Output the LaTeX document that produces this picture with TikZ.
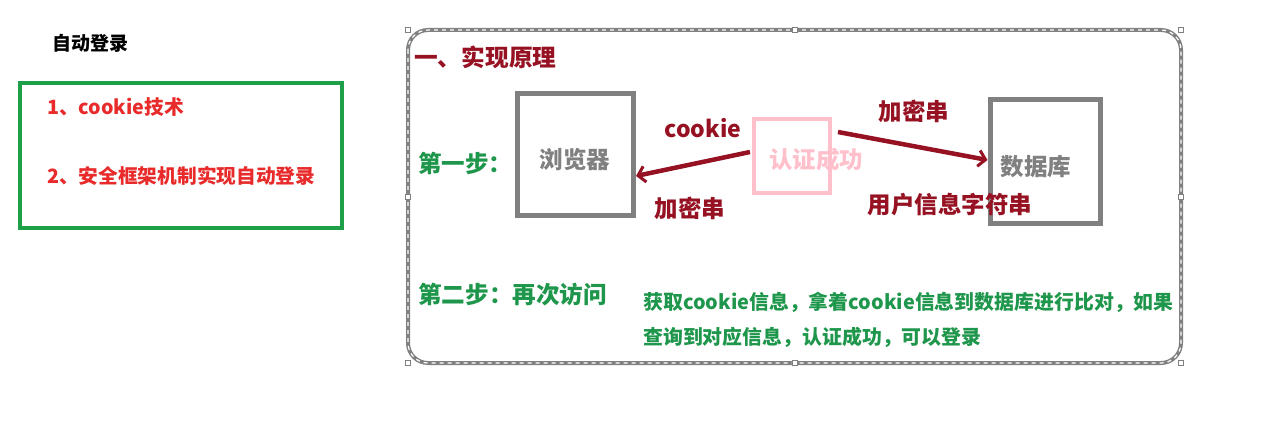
\documentclass[tikz,border=0pt]{standalone}
\usepackage{fontspec}
\setmainfont{Noto Sans CJK SC}
\usetikzlibrary{arrows.meta}
\definecolor{boxgreen}{RGB}{30,160,72}
\definecolor{txtred}{RGB}{232,42,42}
\definecolor{darkred}{RGB}{150,18,35}
\definecolor{boxgray}{RGB}{128,128,128}
\definecolor{pinkc}{RGB}{255,192,203}
\definecolor{txtgreen}{RGB}{30,150,75}
\begin{document}
\begin{tikzpicture}[x=1pt,y=-1pt,
  lbl/.style={inner sep=0pt,font=\bfseries},
  handle/.style={draw=boxgray,fill=white,line width=0.6pt,minimum size=5pt,inner sep=0pt},
  arr/.style={draw=darkred,line width=4.5pt,-{Straight Barb[length=7pt,width=16pt,line width=3pt]}}]
\useasboundingbox (0,0) rectangle (1263,422);
% left part
\node[lbl,font=\bfseries\fontsize{19}{19}\selectfont,anchor=west] (title) at (52,43) {自动登录};
\draw[boxgreen,line width=4pt] (20,83) rectangle (342,228);
\node[lbl,text=txtred,font=\bfseries\fontsize{19.7}{19.7}\selectfont,anchor=west] (i1) at (47,107) {1、cookie技术};
\node[lbl,text=txtred,font=\bfseries\fontsize{19.7}{19.7}\selectfont,anchor=west] (i2) at (47,176) {2、安全框架机制实现自动登录};
% outer frame
\draw[boxgray,line width=4pt,rounded corners=20pt] (408,30) rectangle (1181,363);
\draw[white,line width=1.2pt,dash pattern=on 4pt off 4pt,rounded corners=20pt] (408,30) rectangle (1181,363);
\foreach \p in {(408,30),(795,30),(1181,30),(408,197),(1181,197),(408,363),(795,363),(1181,363)}
  \node[handle] at \p {};
% heading
\node[lbl,text=darkred,font=\bfseries\fontsize{23.7}{23.7}\selectfont,anchor=west] (h) at (414,57) {一、实现原理};
\node[lbl,text=txtgreen,font=\bfseries\fontsize{23.5}{23.5}\selectfont,anchor=west] (s1) at (418,163) {第一步：};
% boxes
\node[draw=boxgray,line width=5pt,minimum width=116pt,minimum height=122pt,inner sep=0pt] (br) at (575.5,154.5) {};
\node[lbl,text=boxgray,font=\bfseries\fontsize{23.5}{23.5}\selectfont] at (575,160) {浏览器};
\node[draw=pinkc,line width=4pt,minimum width=76pt,minimum height=74pt,inner sep=0pt] (auth) at (792,156) {};
\node[lbl,text=pinkc,font=\bfseries\fontsize{23.5}{23.5}\selectfont,anchor=west] at (769,160) {认证成功};
\node[draw=boxgray,line width=5pt,minimum width=110pt,minimum height=124pt,inner sep=0pt] (db) at (1045,161.5) {};
\node[lbl,text=boxgray,font=\bfseries\fontsize{23.5}{23.5}\selectfont] at (1036,167) {数据库};
% arrows
\coordinate (a1s) at (750,152);
\coordinate (a2s) at (838,132);
\draw[arr] (a1s) -- (br.east |- 0,176);
\draw[arr] (a2s) -- (db.west |- 0,160);
\node[lbl,text=darkred,font=\bfseries\fontsize{23}{23}\selectfont] (c1) at (703,128) {cookie};
\node[lbl,text=darkred,font=\bfseries\fontsize{23.5}{23.5}\selectfont] (c2) at (690,208) {加密串};
\node[lbl,text=darkred,font=\bfseries\fontsize{23.5}{23.5}\selectfont] (c3) at (914,111) {加密串};
\node[lbl,text=darkred,font=\bfseries\fontsize{23.5}{23.5}\selectfont] (c4) at (950,205) {用户信息字符串};
% step two
\node[lbl,text=txtgreen,font=\bfseries\fontsize{23.6}{23.6}\selectfont,anchor=west] (s2) at (418,295) {第二步：再次访问};
\node[lbl,text=txtgreen,font=\bfseries\fontsize{19.9}{19.9}\selectfont,anchor=west] (d1) at (643,302) {获取cookie信息，拿着cookie信息到数据库进行比对，如果};
\node[lbl,text=txtgreen,font=\bfseries\fontsize{19.9}{19.9}\selectfont,anchor=west] (d2) at (643,337) {查询到对应信息，认证成功，可以登录};
\end{tikzpicture}
\end{document}
